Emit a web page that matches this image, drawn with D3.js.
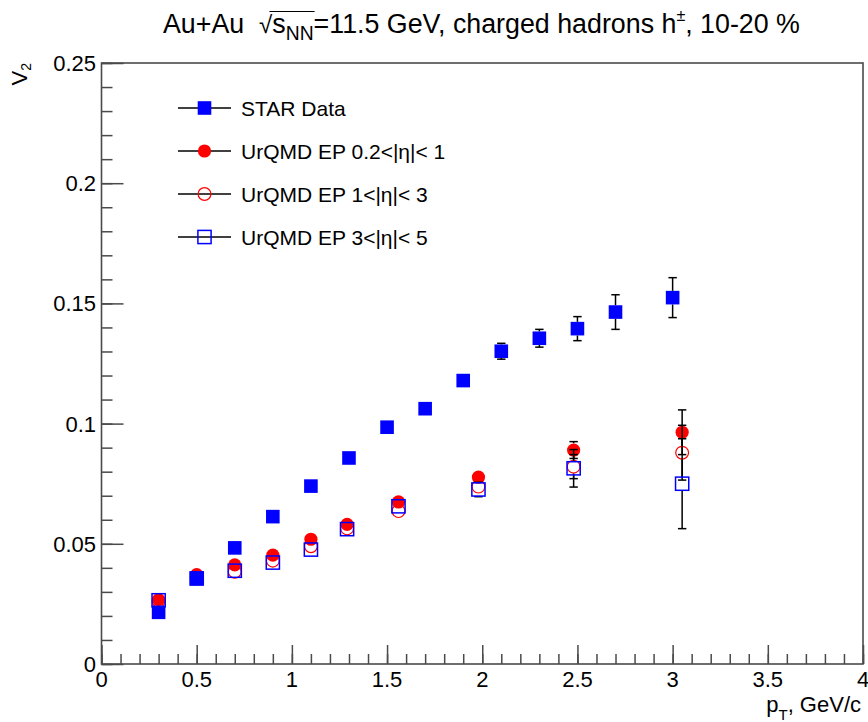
<!DOCTYPE html>
<html>
<head>
<meta charset="utf-8">
<script src="https://cdn.jsdelivr.net/npm/d3@7"></script>
<style>
  html, body { margin: 0; padding: 0; background: #fff; }
  svg { display: block; font-family: "Liberation Sans", Arial, Helvetica, sans-serif; }
</style>
</head>
<body>
<svg id="chart" width="868" height="722"></svg>
<script>
// ---- data ----
const xTickValues = [0, 0.5, 1, 1.5, 2, 2.5, 3, 3.5, 4];
const xTickLabels = ["0", "0.5", "1", "1.5", "2", "2.5", "3", "3.5", "4"];
const yTickValues = [0, 0.05, 0.1, 0.15, 0.2, 0.25];
const yTickLabels = ["0", "0.05", "0.1", "0.15", "0.2", "0.25"];

// STAR measurement
const starPt  = [0.3, 0.5, 0.7, 0.9, 1.1, 1.3, 1.5, 1.7, 1.9, 2.1, 2.3, 2.5, 2.7, 3.0];
const starV2  = [0.0215, 0.0355, 0.0483, 0.0613, 0.0740, 0.0857, 0.0985, 0.1062, 0.1179, 0.1301, 0.1355, 0.1395, 0.1464, 0.1524];
const starErr = [0.001, 0.001, 0.001, 0.0012, 0.0013, 0.0015, 0.0017, 0.002, 0.0023, 0.0033, 0.0037, 0.005, 0.0072, 0.0083];

// UrQMD event-plane results in three eta windows
const urqmdPt  = [0.3, 0.5, 0.7, 0.9, 1.1, 1.29, 1.56, 1.98, 2.48, 3.05];
const ep1V2    = [0.0268, 0.0372, 0.0412, 0.0453, 0.0519, 0.0581, 0.0674, 0.0777, 0.0890, 0.0964];
const ep1Err   = [0.001, 0.0012, 0.0013, 0.0014, 0.0015, 0.0017, 0.002, 0.0025, 0.0035, 0.0093];
const ep2V2    = [0.0262, 0.0362, 0.0384, 0.0430, 0.0490, 0.0564, 0.0636, 0.0738, 0.0821, 0.0879];
const ep2Err   = [0.001, 0.0012, 0.0013, 0.0014, 0.0015, 0.0017, 0.002, 0.0025, 0.005, 0.0114];
const ep3V2    = [0.0265, 0.0356, 0.0388, 0.0422, 0.0476, 0.0561, 0.0656, 0.0726, 0.0814, 0.0750];
const ep3Err   = [0.001, 0.0012, 0.0013, 0.0014, 0.0015, 0.0017, 0.002, 0.003, 0.0078, 0.0187];

const legendLabels = ["STAR Data", "UrQMD EP 0.2<|η|< 1", "UrQMD EP 1<|η|< 3", "UrQMD EP 3<|η|< 5"];

// ---- layout ----
const svg = d3.select("#chart");
const frame = { left: 101.5, right: 863, top: 63, bottom: 664 };
const axisColor = "#4a4a4a";
const blue = "#0000ff", red = "#ff0000";

const x = d3.scaleLinear().domain([0, 4]).range([frame.left, frame.right]);
const y = d3.scaleLinear().domain([0, 0.25]).range([frame.bottom, frame.top]);

// frame box
svg.append("rect")
  .attr("x", frame.left).attr("y", frame.top)
  .attr("width", frame.right - frame.left).attr("height", frame.bottom - frame.top)
  .attr("fill", "none").attr("stroke", axisColor).attr("stroke-width", 1.6);

// ticks drawn inside the frame, ROOT style
const xMinor = d3.range(0, 4.0001, 0.1).map(v => +v.toFixed(2));
const yMinor = d3.range(0, 0.25001, 0.01).map(v => +v.toFixed(3));

const xAxisMinor = d3.axisTop(x).tickValues(xMinor).tickSize(10).tickFormat("");
const xAxisMajor = d3.axisTop(x).tickValues(xTickValues).tickSize(19).tickFormat("");
const yAxisMinor = d3.axisRight(y).tickValues(yMinor).tickSize(11).tickFormat("");
const yAxisMajor = d3.axisRight(y).tickValues(yTickValues).tickSize(22).tickFormat("");

function styleAxis(g) {
  g.select(".domain").remove();
  g.selectAll("line").attr("stroke", axisColor).attr("stroke-width", 1.5);
}
svg.append("g").attr("transform", `translate(0,${frame.bottom})`).call(xAxisMinor).call(styleAxis);
svg.append("g").attr("transform", `translate(0,${frame.bottom})`).call(xAxisMajor).call(styleAxis);
svg.append("g").attr("transform", `translate(${frame.left},0)`).call(yAxisMinor).call(styleAxis);
svg.append("g").attr("transform", `translate(${frame.left},0)`).call(yAxisMajor).call(styleAxis);

// tick labels
svg.append("g").selectAll("text").data(xTickValues).join("text")
  .attr("x", d => x(d)).attr("y", 687)
  .attr("text-anchor", "middle").attr("font-size", 22).attr("fill", "#000")
  .text((d, i) => xTickLabels[i]);
svg.append("g").selectAll("text").data(yTickValues).join("text")
  .attr("x", 96).attr("y", d => y(d) + 8)
  .attr("text-anchor", "end").attr("font-size", 22).attr("fill", "#000")
  .text((d, i) => yTickLabels[i]);

// axis titles
const xt = svg.append("text").attr("font-size", 22).attr("text-anchor", "end")
  .attr("x", 861).attr("y", 712);
xt.append("tspan").text("p");
xt.append("tspan").attr("font-size", 15).attr("dy", 8).text("T");
xt.append("tspan").attr("dy", -8).text(", GeV/c");

const yt = svg.append("text").attr("font-size", 22).attr("text-anchor", "end")
  .attr("transform", "translate(27,63) rotate(-90)");
yt.append("tspan").text("V");
yt.append("tspan").attr("font-size", 14).attr("dy", 4).text("2");

// ---- title, laid out piece by piece ----
const titleSize = 26.8;
const titlePieces = [
  { t: "Au+Au", size: 1 },
  { t: "\u00a0\u00a0", size: 1 },
  { t: "\u221a", size: 0.9, dy: 0, radical: true },
  { t: "s", size: 1, over: true },
  { t: "NN", size: 0.72, dy: 6.5, over: true },
  { t: "=11.5 GeV, charged hadrons h", size: 1 },
  { t: "\u00b1", size: 0.6, dy: -12.5 },
  { t: ", 10-20 %", size: 1 }
];
const titleG = svg.append("g");
let cursor = 163;
const titleBase = 33;
let overStart = null, overEnd = null;
titlePieces.forEach(p => {
  const el = titleG.append("text")
    .attr("x", cursor).attr("y", titleBase + (p.dy || 0))
    .attr("font-size", titleSize * p.size).attr("fill", "#000")
    .style("white-space", "pre")
    .text(p.t);
  const w = el.node().getComputedTextLength();
  if (p.radical) overStart = cursor + w * 0.78;
  if (p.over) overEnd = cursor + w;
  cursor += w;
});
titleG.append("line")
  .attr("x1", overStart).attr("x2", overEnd + 1)
  .attr("y1", titleBase - 21.5).attr("y2", titleBase - 21.5)
  .attr("stroke", "#000").attr("stroke-width", 1.2);

// ---- markers and error bars ----
const markerHalf = 6.8;
const capHalf = 4.2;

function drawSeries(pts, vals, errs, kind) {
  const g = svg.append("g");
  pts.forEach((pt, i) => {
    const cx = x(pt), cy = y(vals[i]);
    const yHi = y(vals[i] + errs[i]), yLo = y(vals[i] - errs[i]);
    const eg = g.append("g").attr("stroke", "#000").attr("stroke-width", 1.5);
    if (cy - yHi > markerHalf) {
      eg.append("line").attr("x1", cx).attr("x2", cx).attr("y1", cy - markerHalf).attr("y2", yHi);
      eg.append("line").attr("x1", cx - capHalf).attr("x2", cx + capHalf).attr("y1", yHi).attr("y2", yHi);
    }
    if (yLo - cy > markerHalf) {
      eg.append("line").attr("x1", cx).attr("x2", cx).attr("y1", cy + markerHalf).attr("y2", yLo);
      eg.append("line").attr("x1", cx - capHalf).attr("x2", cx + capHalf).attr("y1", yLo).attr("y2", yLo);
    }
    drawMarker(g, cx, cy, kind);
  });
}

function drawMarker(g, cx, cy, kind) {
  if (kind === "fillSquare") {
    g.append("rect").attr("x", cx - 6.8).attr("y", cy - 6.8).attr("width", 13.6).attr("height", 13.6)
      .attr("fill", blue);
  } else if (kind === "openSquare") {
    g.append("rect").attr("x", cx - 6.6).attr("y", cy - 6.6).attr("width", 13.2).attr("height", 13.2)
      .attr("fill", "none").attr("stroke", blue).attr("stroke-width", 1.5);
  } else if (kind === "fillCircle") {
    g.append("circle").attr("cx", cx).attr("cy", cy).attr("r", 6.6).attr("fill", red);
  } else if (kind === "openCircle") {
    g.append("circle").attr("cx", cx).attr("cy", cy).attr("r", 6.4)
      .attr("fill", "none").attr("stroke", red).attr("stroke-width", 1.2);
  }
}

drawSeries(urqmdPt, ep1V2, ep1Err, "fillCircle");
drawSeries(urqmdPt, ep2V2, ep2Err, "openCircle");
drawSeries(urqmdPt, ep3V2, ep3Err, "openSquare");
drawSeries(starPt, starV2, starErr, "fillSquare");

// ---- legend ----
const legendKinds = ["fillSquare", "fillCircle", "openCircle", "openSquare"];
const legendY = [108, 151, 194, 237];
const legend = svg.append("g");
legendLabels.forEach((label, i) => {
  const ly = legendY[i];
  legend.append("line").attr("x1", 178).attr("x2", 231).attr("y1", ly).attr("y2", ly)
    .attr("stroke", "#000").attr("stroke-width", 1.4);
  drawMarker(legend, 204.5, ly, legendKinds[i]);
  legend.append("text").attr("x", 241).attr("y", ly + 7.5)
    .attr("font-size", 21).attr("fill", "#000").text(label);
});
</script>
</body>
</html>
